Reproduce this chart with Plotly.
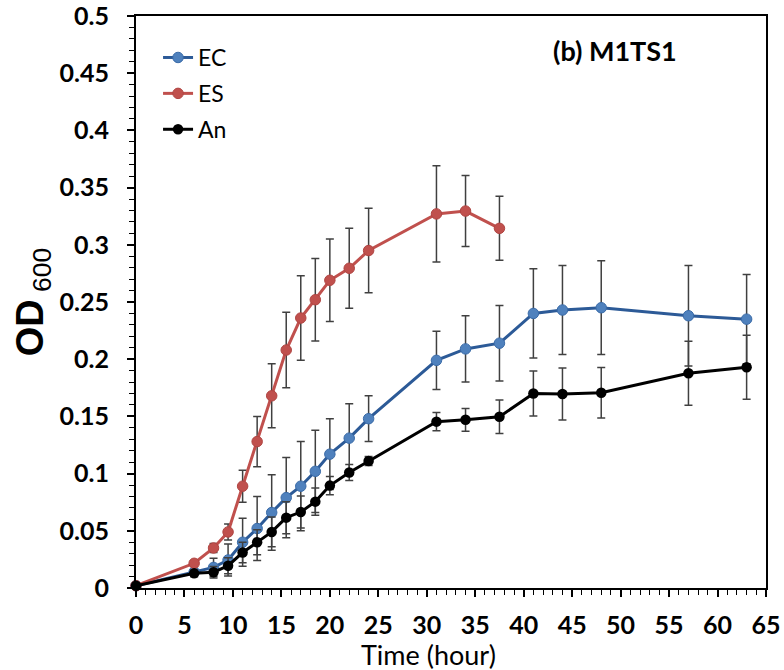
import plotly.graph_objects as go

# Time points (hours)
time_ec = [0, 6, 8, 9.5, 11, 12.5, 14, 15.5, 17, 18.5, 20, 22, 24, 31, 34, 37.5, 41, 44, 48, 57, 63]
time_es = [0, 6, 8, 9.5, 11, 12.5, 14, 15.5, 17, 18.5, 20, 22, 24, 31, 34, 37.5]
time_an = [0, 6, 8, 9.5, 11, 12.5, 14, 15.5, 17, 18.5, 20, 22, 24, 31, 34, 37.5, 41, 44, 48, 57, 63]

# OD600 means
ec = [0.002, 0.014, 0.018, 0.0245, 0.040, 0.052, 0.066, 0.079, 0.089, 0.102, 0.117, 0.131, 0.148,
      0.199, 0.209, 0.214, 0.240, 0.243, 0.245, 0.238, 0.235]
es = [0.002, 0.0216, 0.035, 0.049, 0.089, 0.128, 0.168, 0.208, 0.236, 0.252, 0.269, 0.2795, 0.295,
      0.327, 0.3295, 0.3144]
an = [0.002, 0.0128, 0.0137, 0.0195, 0.031, 0.040, 0.049, 0.0615, 0.0664, 0.0755, 0.0895, 0.101, 0.111,
      0.1454, 0.147, 0.1497, 0.170, 0.1696, 0.1707, 0.1877, 0.193]

# Error bars (+/-)
ec_err = [0.001, 0.003, 0.008, 0.014, 0.021, 0.028, 0.033, 0.035, 0.039, 0.036, 0.031, 0.030, 0.020,
          0.0255, 0.029, 0.033, 0.039, 0.039, 0.041, 0.044, 0.039]
es_err = [0.001, 0.002, 0.004, 0.007, 0.014, 0.022, 0.028, 0.033, 0.037, 0.036, 0.036, 0.035, 0.037,
          0.042, 0.031, 0.028]
an_err = [0.001, 0.003, 0.005, 0.007, 0.009, 0.011, 0.013, 0.014, 0.014, 0.012, 0.008, 0.007, 0.004,
          0.008, 0.010, 0.0146, 0.0197, 0.0227, 0.022, 0.028, 0.028]

series_names = ["EC", "ES", "An"]
x_ticks = list(range(0, 70, 5))

err_style = dict(type="data", color="#404040", thickness=1.5, width=4)

fig = go.Figure()
fig.add_trace(go.Scatter(
    x=time_ec, y=ec, name=series_names[0], mode="lines+markers", legendgroup="a",
    line=dict(color="#2C5A97", width=3),
    marker=dict(color="#4F81BD", size=10.5, line=dict(color="#3A6BA8", width=1)),
    error_y=dict(array=ec_err, **err_style), cliponaxis=False))
fig.add_trace(go.Scatter(
    x=time_es, y=es, name=series_names[1], mode="lines+markers", legendgroup="b",
    line=dict(color="#C0504D", width=3),
    marker=dict(color="#C0504D", size=10.5, line=dict(color="#B04542", width=1)),
    error_y=dict(array=es_err, **err_style), cliponaxis=False))
fig.add_trace(go.Scatter(
    x=time_an, y=an, name=series_names[2], mode="lines+markers", legendgroup="c",
    line=dict(color="#000000", width=3),
    marker=dict(color="#000000", size=10.5),
    error_y=dict(array=an_err, **err_style), cliponaxis=False))

tick_font = dict(family="Lato", size=25, color="black", weight="bold")

fig.update_layout(
    width=784, height=670,
    margin=dict(l=136, r=18, t=16, b=82),
    plot_bgcolor="white", paper_bgcolor="white",
    showlegend=True,
    legend=dict(x=0.035, y=0.965, xanchor="left", yanchor="top",
                font=dict(family="Lato", size=23, color="black"),
                bgcolor="rgba(0,0,0,0)", traceorder="grouped", tracegroupgap=3,
                itemwidth=30),
    xaxis=dict(range=[0, 65], tickvals=x_ticks, ticks="outside", ticklen=7, tickwidth=1.5,
               tickcolor="black", showline=True, linecolor="black", linewidth=2, mirror=True,
               showgrid=False, zeroline=False, tickfont=tick_font, ticklabelstandoff=7,
               automargin=False, ticklabeloverflow="allow",
               minor=dict(dtick=1, ticks="outside", ticklen=5, tickwidth=1, tickcolor="black", showgrid=False)),
    yaxis=dict(range=[0, 0.5], dtick=0.05, ticks="outside", ticklen=7, tickwidth=1.5,
               tickcolor="black", showline=True, linecolor="black", linewidth=2, mirror=True,
               showgrid=False, zeroline=False, tickfont=tick_font, ticklabelstandoff=13,
               automargin=False, ticklabeloverflow="allow",
               minor=dict(dtick=0.01, ticks="outside", ticklen=5, tickwidth=1, tickcolor="black", showgrid=False),
               title=dict(text="<b>OD</b><sub> 600</sub>",
                          font=dict(family="Arial", size=38, color="black"), standoff=4)),
    annotations=[
        dict(text="<b>(b) M1TS1</b>", xref="paper", yref="paper", x=0.76, y=0.94,
             xanchor="center", yanchor="middle", showarrow=False,
             font=dict(family="Lato", size=27, color="black")),
        dict(text="Time (hour)", xref="paper", yref="paper", x=0.465, y=-0.116,
             xanchor="center", yanchor="middle", showarrow=False,
             font=dict(family="Lato", size=27, color="black")),
    ],
)

fig.write_html("out.html", config={"displayModeBar": False},
               post_script="document.body.style.margin='0';document.body.style.overflow='hidden';")
